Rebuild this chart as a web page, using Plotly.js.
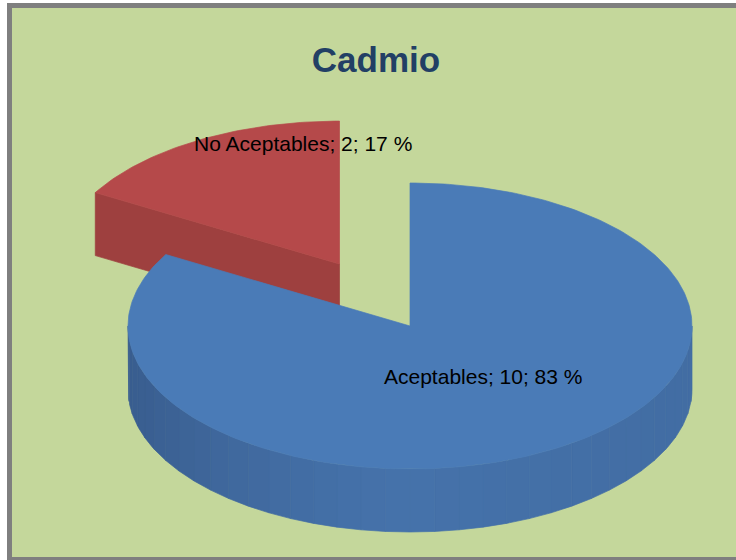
<!DOCTYPE html>
<html>
<head>
<meta charset="utf-8">
<script src="https://cdn.plot.ly/plotly-3.0.1.min.js"></script>
<style>
  html, body { margin: 0; padding: 0; background: #ffffff; width: 736px; height: 560px; overflow: hidden; }
  #frame {
    position: absolute; left: 7px; top: 3px;
    width: 724px; height: 549px;
    border-left: 5px solid #7f7f7f; border-top: 5px solid #7f7f7f; border-bottom: 4px solid #7f7f7f;
    background: #c4d79b;
  }
  #chart { width: 724px; height: 549px; }
</style>
</head>
<body>
<div id="frame"><div id="chart"></div></div>
<script>
// ---- data ----
const categories = ['Aceptables', 'No Aceptables'];
const values = [10, 2];
const chartTitle = 'Cadmio';

// ---- styles ----
const topColors = ['#4a7bb7', '#b5494a'];
const sideDark = ['#395d8f', '#9e403f'];
const sideMid = ['#4572aa', '#a84443'];
const pulls = [0, 0.5];

// ---- geometry (layout) ----
const W = 724, H = 549;
const CX = 398, CY = 318, A = 282, B = 143, DEPTH = 63;

const total = values.reduce((s, v) => s + v, 0);
const rad = d => d * Math.PI / 180;
function pt(c, th, r, dz) {
  return [c[0] + A * r * Math.sin(rad(th)), c[1] - B * r * Math.cos(rad(th)) + dz];
}
function hex(c){ return [parseInt(c.slice(1,3),16),parseInt(c.slice(3,5),16),parseInt(c.slice(5,7),16)]; }
function mix(c1, c2, t){ const a = hex(c1), b = hex(c2); return 'rgb(' + a.map((v,i)=>Math.round(v+(b[i]-v)*t)).join(',') + ')'; }

function poly(points, color) {
  return {
    type: 'scatter', mode: 'lines', fill: 'toself',
    x: points.map(p => p[0]), y: points.map(p => p[1]),
    fillcolor: color, line: { color: color, width: 0.7 },
    hoverinfo: 'skip', showlegend: false
  };
}

let cum = 0;
const slices = values.map((v, i) => {
  const t0 = 360 * cum / total; cum += v;
  const t1 = 360 * cum / total;
  const mid = (t0 + t1) / 2;
  const c = [CX + pulls[i] * A * Math.sin(rad(mid)), CY - pulls[i] * B * Math.cos(rad(mid))];
  return { i, t0, t1, c };
});

const traces = [];
slices.slice().sort((s1, s2) => s1.c[1] - s2.c[1]).forEach(s => {
  const { i, t0, t1, c } = s;
  const cb = [c[0], c[1] + DEPTH];
  // radial faces
  if (Math.sin(rad(t0)) < -1e-9) {
    const p = pt(c, t0, 1, 0), q = pt(c, t0, 1, DEPTH);
    traces.push(poly([c, p, q, cb, c], sideDark[i]));
  }
  if (Math.sin(rad(t1)) > 1e-9) {
    const p = pt(c, t1, 1, 0), q = pt(c, t1, 1, DEPTH);
    traces.push(poly([c, p, q, cb, c], sideDark[i]));
  }
  // outer rim (front half, angles 90..270)
  const lo = Math.max(t0, 90), hi = Math.min(t1, 270);
  if (hi > lo) {
    const step = 5;
    for (let a0 = lo; a0 < hi; a0 += step) {
      const a1 = Math.min(a0 + step, hi);
      const pts = [];
      for (let a = a0; a <= a1 + 1e-9; a += 1) pts.push(pt(c, a, 1, 0));
      for (let a = a1; a >= a0 - 1e-9; a -= 1) pts.push(pt(c, a, 1, DEPTH));
      pts.push(pts[0]);
      const s = Math.sin(rad((a0 + a1) / 2)); // -1 left, +1 right
      const col = s < 0 ? mix(sideMid[i], sideDark[i], Math.pow(-s, 1.6)) : mix(sideMid[i], sideDark[i], 0.25 * s);
      traces.push(poly(pts, col));
    }
  }
  // top face
  const pts = [c];
  for (let a = t0; a <= t1 + 1e-9; a += 1) pts.push(pt(c, a, 1, 0));
  pts.push(c);
  traces.push(poly(pts, topColors[i]));
});

const labelPos = [[471, 368], [291, 135]];
const annotations = categories.map((cat, i) => ({
  x: labelPos[i][0], y: labelPos[i][1], xref: 'x', yref: 'y',
  text: cat + '; ' + values[i] + '; ' + Math.round(100 * values[i] / total) + ' %',
  showarrow: false, xanchor: 'center', yanchor: 'middle',
  font: { family: '"Liberation Sans", Arial, sans-serif', size: 21, color: '#000000' }
}));

const layout = {
  width: W, height: H,
  margin: { l: 0, r: 0, t: 0, b: 0 },
  paper_bgcolor: 'rgba(0,0,0,0)', plot_bgcolor: 'rgba(0,0,0,0)',
  title: {
    text: '<b>' + chartTitle + '</b>',
    x: 364 / W, xanchor: 'center', xref: 'paper',
    y: 1 - 52 / H, yanchor: 'middle', yref: 'container',
    font: { family: '"Liberation Sans", Arial, sans-serif', size: 35, color: '#223f65' }
  },
  xaxis: { range: [0, W], visible: false, fixedrange: true },
  yaxis: { range: [H, 0], visible: false, fixedrange: true },
  showlegend: false, hovermode: false,
  annotations: annotations
};

Plotly.newPlot('chart', traces, layout, { staticPlot: true, displayModeBar: false });
</script>
</body>
</html>
